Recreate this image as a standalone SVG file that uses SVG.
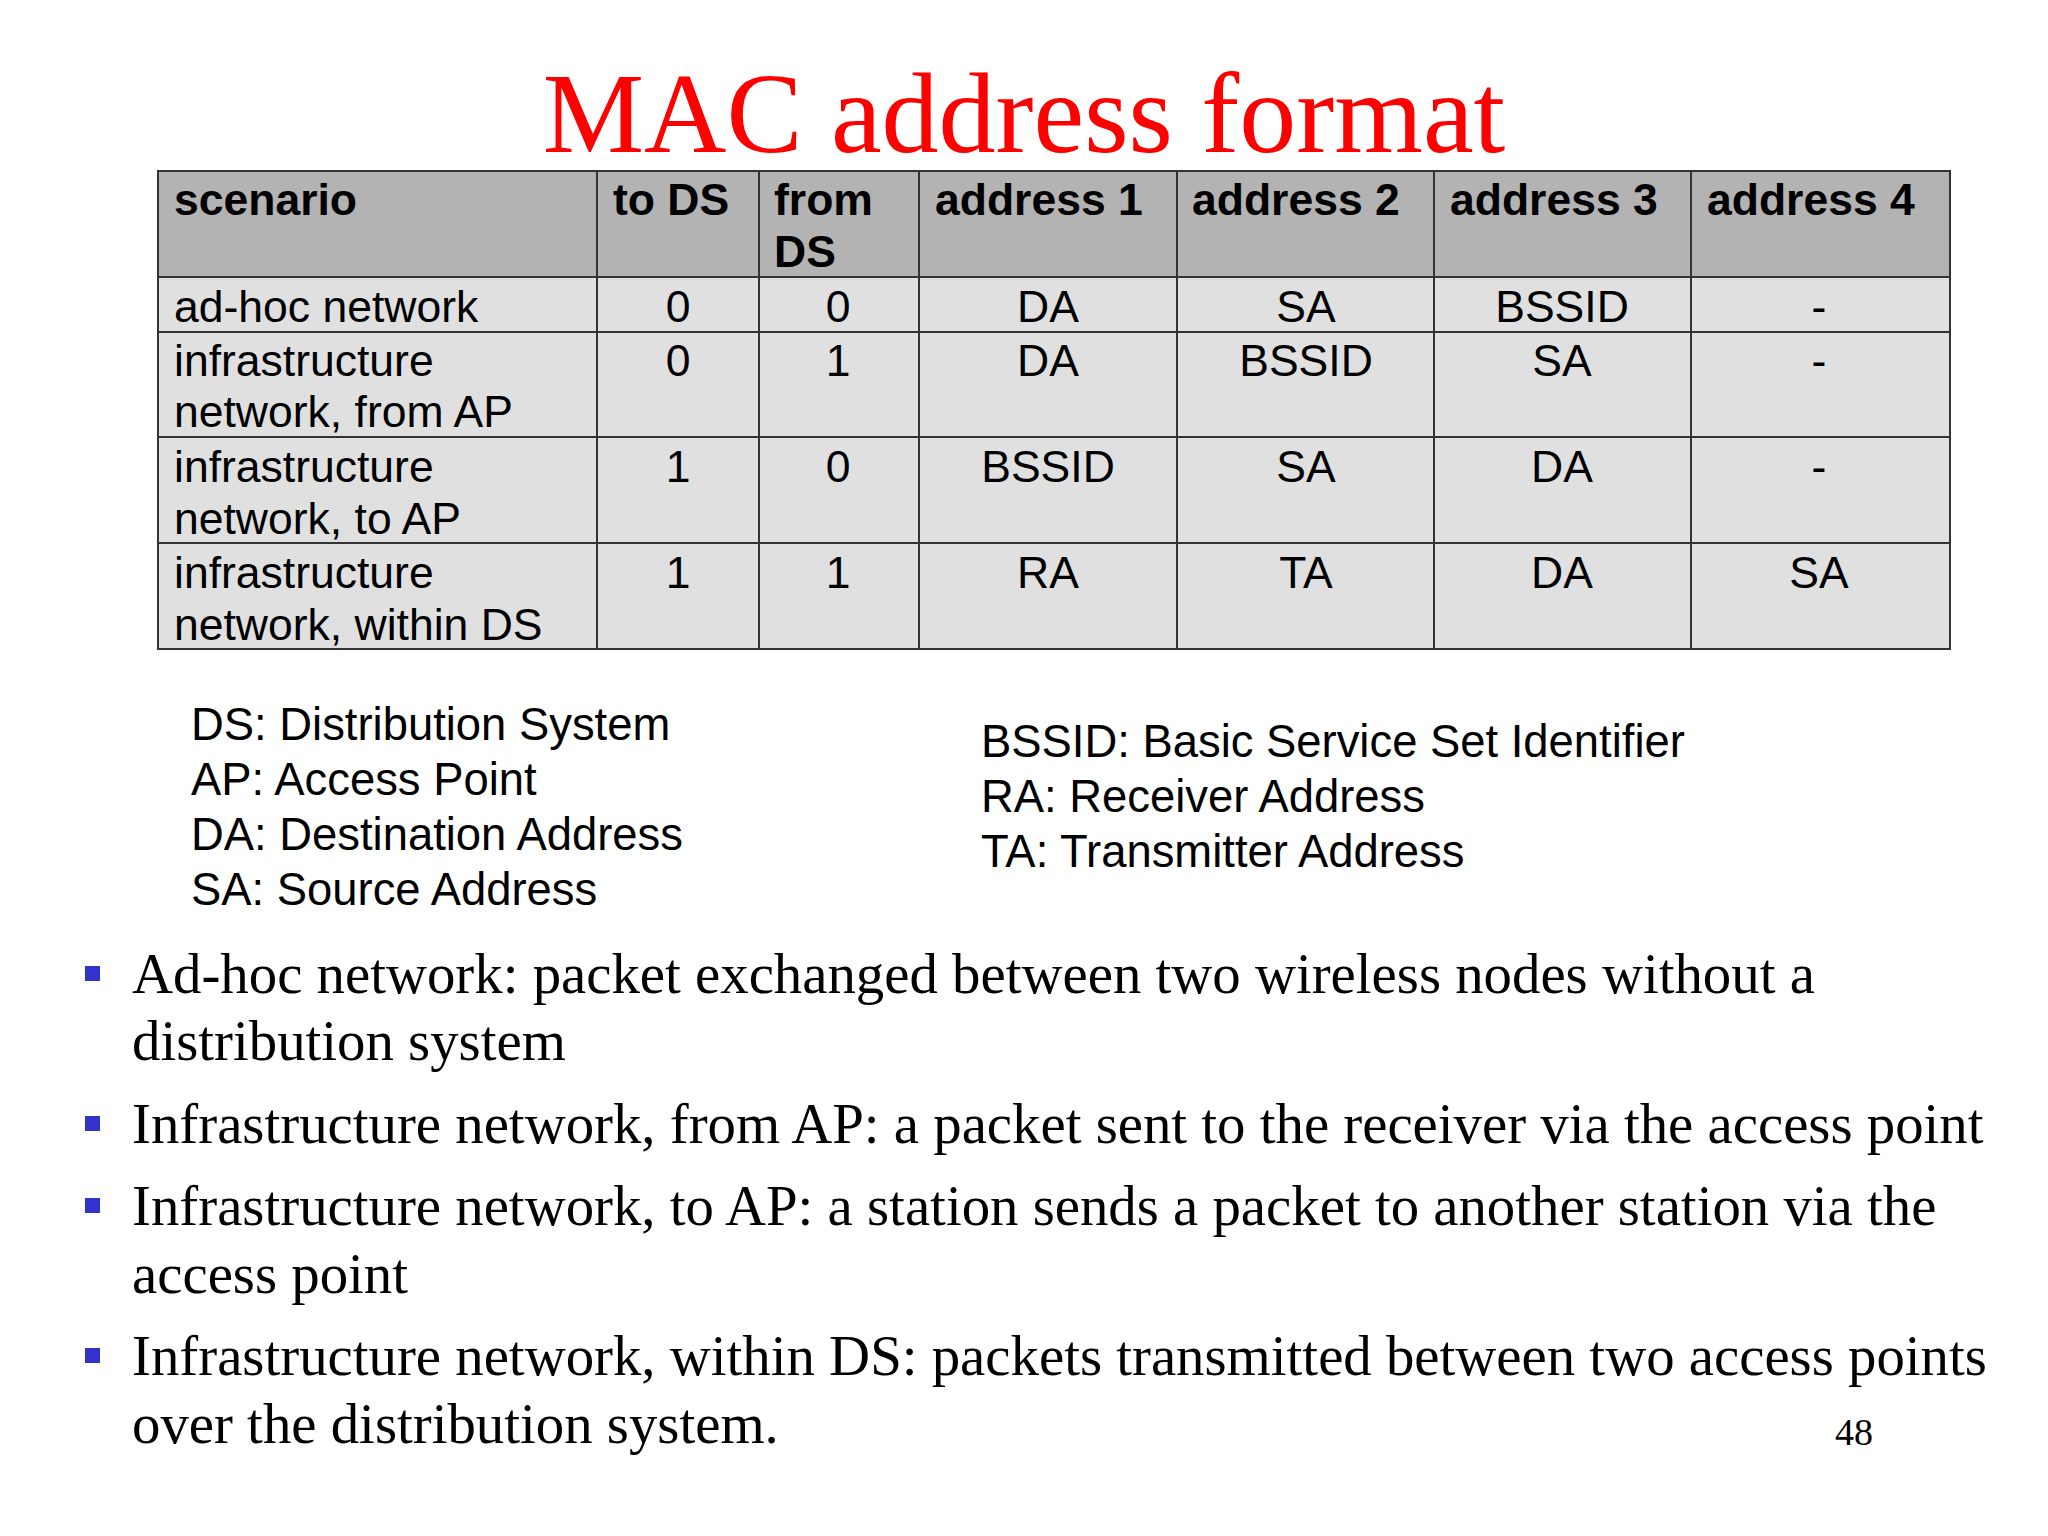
<svg xmlns="http://www.w3.org/2000/svg" width="2048" height="1536" viewBox="0 0 2048 1536">
<style>
.t{font-family:"Liberation Sans",Arial,sans-serif;font-size:44.5px;fill:#000}
.l{font-size:45.4px}
.b{font-weight:bold}
.c{text-anchor:middle}
.s{font-family:"Liberation Serif","Times New Roman",serif;font-size:56.8px;fill:#000}
.g{stroke:#333;stroke-width:2;fill:none}
</style>
<rect width="2048" height="1536" fill="#fff"/>
<text x="1024" y="152" text-anchor="middle" font-family="Liberation Serif,serif" font-size="114" fill="#f00">MAC address format</text>
<g id="table">
<rect x="158" y="171" width="1792" height="106" fill="#b3b3b3"/>
<rect x="158" y="277" width="1792" height="372" fill="#e0e0e0"/>
<rect x="158" y="171" width="1792" height="478" class="g"/>
<path class="g" d="M158 277H1950M158 332H1950M158 437H1950M158 543H1950M597 171V649M759 171V649M919 171V649M1177 171V649M1434 171V649M1691 171V649"/>
<g class="t b"><text x="174" y="215">scenario</text><text x="613" y="215">to DS</text><text x="774" y="215">from</text><text x="774" y="267">DS</text><text x="935" y="215">address 1</text><text x="1192" y="215">address 2</text><text x="1450" y="215">address 3</text><text x="1707" y="215">address 4</text></g>
<g class="t"><text x="174" y="322">ad-hoc network</text><text x="174" y="376">infrastructure</text><text x="174" y="427">network, from AP</text><text x="174" y="482">infrastructure</text><text x="174" y="534">network, to AP</text><text x="174" y="588">infrastructure</text><text x="174" y="640">network, within DS</text></g>
<g class="t c">
<text x="678" y="322">0</text><text x="838" y="322">0</text><text x="1048" y="322">DA</text><text x="1306" y="322">SA</text><text x="1562" y="322">BSSID</text><text x="1819" y="322">-</text>
<text x="678" y="376">0</text><text x="838" y="376">1</text><text x="1048" y="376">DA</text><text x="1306" y="376">BSSID</text><text x="1562" y="376">SA</text><text x="1819" y="376">-</text>
<text x="678" y="482">1</text><text x="838" y="482">0</text><text x="1048" y="482">BSSID</text><text x="1306" y="482">SA</text><text x="1562" y="482">DA</text><text x="1819" y="482">-</text>
<text x="678" y="588">1</text><text x="838" y="588">1</text><text x="1048" y="588">RA</text><text x="1306" y="588">TA</text><text x="1562" y="588">DA</text><text x="1819" y="588">SA</text>
</g>
</g>
<g id="legend" class="t l">
<text x="191" y="740">DS: Distribution System</text><text x="191" y="795">AP: Access Point</text><text x="191" y="850">DA: Destination Address</text><text x="191" y="905">SA: Source Address</text>
<text x="981" y="757">BSSID: Basic Service Set Identifier</text><text x="981" y="812">RA: Receiver Address</text><text x="981" y="867">TA: Transmitter Address</text>
</g>
<g id="bullets">
<g fill="#3333cc"><rect x="85" y="966" width="15" height="15"/><rect x="85" y="1116" width="15" height="15"/><rect x="85" y="1198" width="15" height="15"/><rect x="85" y="1348" width="15" height="15"/></g>
<g class="s">
<text x="132" y="993">Ad-hoc network: packet exchanged between two wireless nodes without a</text>
<text x="132" y="1060">distribution system</text>
<text x="132" y="1143">Infrastructure network, from AP: a packet sent to the receiver via the access point</text>
<text x="132" y="1225">Infrastructure network, to AP: a station sends a packet to another station via the</text>
<text x="132" y="1293">access point</text>
<text x="132" y="1375">Infrastructure network, within DS: packets transmitted between two access points</text>
<text x="132" y="1443">over the distribution system.</text>
</g>
<text x="1835" y="1445" font-family="Liberation Serif,serif" font-size="38">48</text>
</g>
</svg>
